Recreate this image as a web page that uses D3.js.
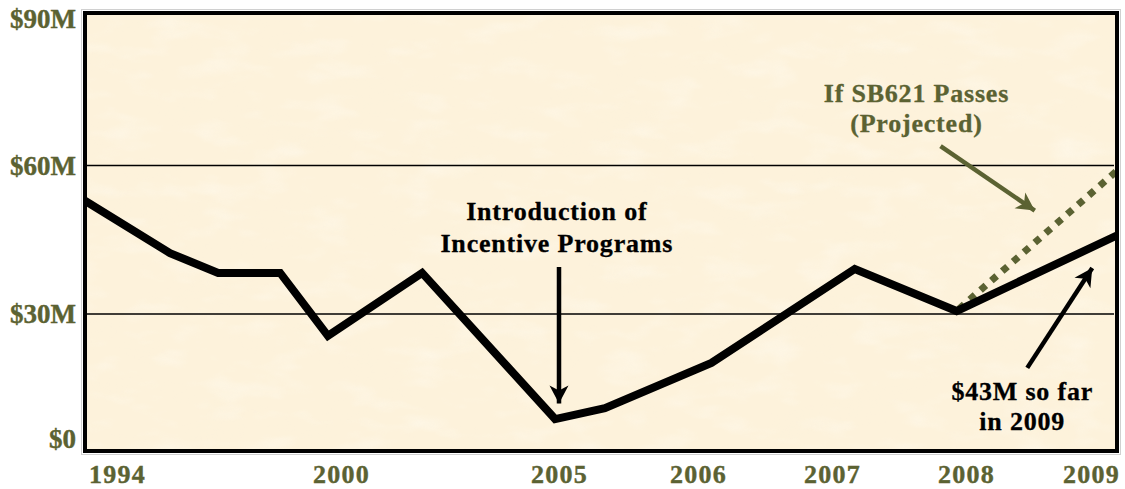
<!DOCTYPE html>
<html>
<head>
<meta charset="utf-8">
<script src="https://cdn.jsdelivr.net/npm/d3@7"></script>
<style>
  html, body { margin: 0; padding: 0; background: #ffffff; }
  svg { display: block; }
  text { font-family: "Liberation Serif", "Times New Roman", serif; font-weight: bold; }
</style>
</head>
<body>
<svg id="chart" width="1125" height="489"></svg>
<script>
// ---------------- DATA ----------------
// x-axis tick labels (years, irregularly spaced in the original)
const xTickYears = [1994, 2000, 2005, 2006, 2007, 2008, 2009];
// y-axis ticks ($ millions)
const yTickValues = [0, 30, 60, 90];
const yTickLabels = ["$0", "$30M", "$60M", "$90M"];

// actual series: position on the year axis and value ($M)
const actualYears  = [1993.14, 1995.42, 1996.71, 1998.37, 1999.65, 2001.86, 2004.91, 2005.33, 2006.10, 2007.17, 2007.93, 2009.21];
const actualValues = [52.9,    42.3,    38.3,    38.3,    25.2,    38.3,    7.0,     9.4,     19.3,    39.1,    30.6,    45.9];

// projected series (if SB621 passes)
const projectedYears  = [2007.93, 2009.21];
const projectedValues = [30.6,    59.0];

// annotations
const annIntroLines = ["Introduction of", "Incentive Programs"];
const annProjLines  = ["If SB621 Passes", "(Projected)"];
const annSoFarLines = ["$43M so far", "in 2009"];

// ---------------- LAYOUT ----------------
const plot = { left: 85, top: 13, right: 1117, bottom: 451 };
const olive = "#5b6232";

const svg = d3.select("#chart");

// x: piecewise scale mapping the (irregular) year ticks to positions
const x = d3.scaleLinear()
  .domain(xTickYears)
  .range([117, 341, 559, 698, 832, 966, 1091]);

// y: piecewise scale (the original has unequal gaps)
const y = d3.scaleLinear()
  .domain(yTickValues)
  .range([plot.bottom, 314, 165.5, plot.top]);

const defs = svg.append("defs");

// parchment texture
const f = defs.append("filter").attr("id", "parch")
  .attr("x", 0).attr("y", 0).attr("width", "100%").attr("height", "100%");
f.append("feTurbulence").attr("type", "fractalNoise")
  .attr("baseFrequency", "0.012 0.025").attr("numOctaves", 4).attr("seed", 7).attr("result", "n");
f.append("feColorMatrix").attr("in", "n").attr("type", "matrix")
  .attr("values", "0 0 0 0 0.95  0 0 0 0 0.88  0 0 0 0 0.72  1.6 0 0 0 -0.8");

const f2 = defs.append("filter").attr("id", "parch2")
  .attr("x", 0).attr("y", 0).attr("width", "100%").attr("height", "100%");
f2.append("feTurbulence").attr("type", "fractalNoise")
  .attr("baseFrequency", "0.02 0.05").attr("numOctaves", 3).attr("seed", 3).attr("result", "n");
f2.append("feColorMatrix").attr("in", "n").attr("type", "matrix")
  .attr("values", "0 0 0 0 1  0 0 0 0 1  0 0 0 0 0.97  1.6 0 0 0 -0.8");

defs.append("clipPath").attr("id", "plotClip")
  .append("rect")
  .attr("x", plot.left).attr("y", plot.top)
  .attr("width", plot.right - plot.left).attr("height", plot.bottom - plot.top);

// arrow markers
function marker(id, color) {
  defs.append("marker").attr("id", id)
    .attr("viewBox", "-20 -10 22 20")
    .attr("refX", 0).attr("refY", 0)
    .attr("markerUnits", "userSpaceOnUse")
    .attr("markerWidth", 22).attr("markerHeight", 20)
    .attr("orient", "auto")
    .append("path")
    .attr("d", "M0,0 L-18,-9.5 L-13,0 L-18,9.5 Z")
    .attr("fill", color);
}
marker("arrBlack", "#000");
marker("arrOlive", olive);

// outer light outline
svg.append("rect")
  .attr("x", plot.left - 3.5).attr("y", plot.top - 3.5)
  .attr("width", plot.right - plot.left + 7).attr("height", plot.bottom - plot.top + 7)
  .attr("fill", "none").attr("stroke", "#d0d0d0").attr("stroke-width", 1);

// background
const bg = svg.append("g");
bg.append("rect")
  .attr("x", plot.left).attr("y", plot.top)
  .attr("width", plot.right - plot.left).attr("height", plot.bottom - plot.top)
  .attr("fill", "#fdf2db");
bg.append("rect")
  .attr("x", plot.left).attr("y", plot.top)
  .attr("width", plot.right - plot.left).attr("height", plot.bottom - plot.top)
  .attr("filter", "url(#parch)").attr("opacity", 0.14);
bg.append("rect")
  .attr("x", plot.left).attr("y", plot.top)
  .attr("width", plot.right - plot.left).attr("height", plot.bottom - plot.top)
  .attr("filter", "url(#parch2)").attr("opacity", 0.45);

// gridlines
svg.append("g").selectAll("line")
  .data(yTickValues.filter(v => v > 0 && v < 90))
  .join("line")
  .attr("x1", plot.left).attr("x2", plot.right - 3)
  .attr("y1", d => y(d)).attr("y2", d => y(d))
  .attr("stroke", "#000").attr("stroke-width", 1.6);

// y-axis labels
svg.append("g").selectAll("text")
  .data(yTickValues)
  .join("text")
  .attr("x", 76)
  .attr("y", d => Math.min(Math.max(y(d), 19), 439))
  .attr("dy", "0.34em")
  .attr("text-anchor", "end")
  .attr("font-size", 27)
  .attr("fill", olive)
  .attr("stroke", olive).attr("stroke-width", 0.4)
  .text((d, i) => yTickLabels[i]);

// x-axis labels
svg.append("g").selectAll("text")
  .data(xTickYears)
  .join("text")
  .attr("x", d => x(d) + 0.5)
  .attr("y", 483)
  .attr("text-anchor", "middle")
  .attr("font-size", 26)
  .attr("letter-spacing", 1.2)
  .attr("fill", olive)
  .attr("stroke", olive).attr("stroke-width", 0.4)
  .text(d => d);

const line = d3.line().x(d => x(d[0])).y(d => y(d[1]));
const plotG = svg.append("g").attr("clip-path", "url(#plotClip)");

// projected dotted line
plotG.append("path")
  .datum(d3.zip(projectedYears, projectedValues))
  .attr("d", line)
  .attr("fill", "none")
  .attr("stroke", olive)
  .attr("stroke-width", 7)
  .attr("stroke-dasharray", "7 7.4")
  .attr("stroke-dashoffset", -3);

// actual line
plotG.append("path")
  .datum(d3.zip(actualYears, actualValues))
  .attr("d", line)
  .attr("fill", "none")
  .attr("stroke", "#000")
  .attr("stroke-width", 8)
  .attr("stroke-linejoin", "miter");

// plot border
svg.append("rect")
  .attr("x", plot.left).attr("y", plot.top)
  .attr("width", plot.right - plot.left).attr("height", plot.bottom - plot.top)
  .attr("fill", "none").attr("stroke", "#000").attr("stroke-width", 4);

// ---------------- ANNOTATIONS ----------------
function arrow(from, to, color, mk) {
  svg.append("line")
    .attr("x1", x(from[0])).attr("y1", y(from[1]))
    .attr("x2", x(to[0])).attr("y2", y(to[1]))
    .attr("stroke", color).attr("stroke-width", 4.5)
    .attr("marker-end", `url(#${mk})`);
}
function label(lines, atYear, baselines, color) {
  const t = svg.append("text")
    .attr("text-anchor", "middle")
    .attr("font-size", 26)
    .attr("letter-spacing", 0.8)
    .attr("fill", color)
    .attr("stroke", color).attr("stroke-width", 0.3);
  lines.forEach((s, i) => {
    t.append("tspan").attr("x", x(atYear)).attr("y", y(baselines[i])).text(s);
  });
}

label(annIntroLines, 2004.95, [48.9, 42.5], "#000");
arrow([2005, 39.5], [2005, 10.4], "#000", "arrBlack");

label(annProjLines, 2007.63, [72.5, 66.6], olive);
arrow([2007.81, 63.8], [2008.55, 50.9], olive, "arrOlive");

label(annSoFarLines, 2008.45, [11.2, 4.6], "#000");
arrow([2008.49, 18.2], [2009.01, 39.3], "#000", "arrBlack");
</script>
</body>
</html>
